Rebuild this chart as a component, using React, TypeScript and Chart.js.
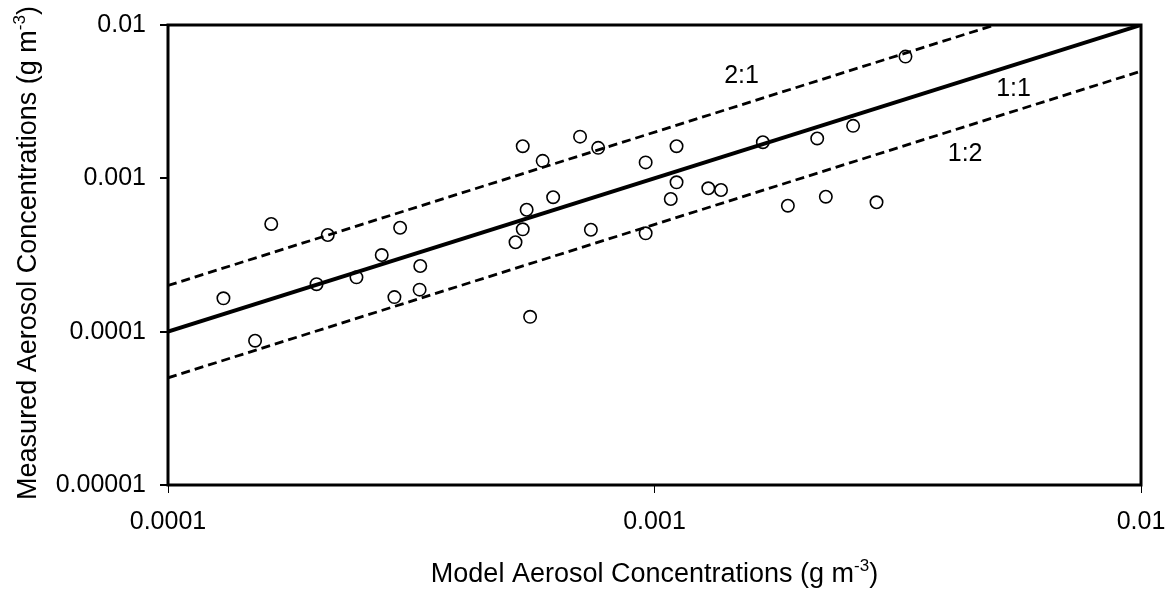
import React, { useEffect, useRef } from "react";
import { Chart, registerables } from "chart.js";

Chart.register(...registerables);

const FONT = '"Liberation Sans", Arial, sans-serif';

// Scatter data: model vs measured aerosol concentrations (g m^-3)
const modelX = [
  0.000130, 0.000151, 0.000163, 0.000202, 0.000213, 0.000244, 0.000275,
  0.000292, 0.000300, 0.000329, 0.000330, 0.000518, 0.000536, 0.000536,
  0.000546, 0.000555, 0.000589, 0.000619, 0.000703, 0.000740, 0.000766,
  0.000959, 0.000959, 0.00108, 0.00111, 0.00111, 0.00129, 0.00137,
  0.00167, 0.00188, 0.00216, 0.00225, 0.00256, 0.00286, 0.00328,
];
const measuredY = [
  0.000165, 0.0000873, 0.000504, 0.000204, 0.000427, 0.000226, 0.000316,
  0.000168, 0.000476, 0.000188, 0.000268, 0.000383, 0.000465, 0.00162,
  0.000624, 0.000125, 0.00130, 0.000753, 0.00187, 0.000462, 0.00158,
  0.00127, 0.000438, 0.000733, 0.00162, 0.000942, 0.000861, 0.000839,
  0.00172, 0.000663, 0.00182, 0.000759, 0.00220, 0.000698, 0.00622,
];

// Reference lines
const oneToOneX = [0.0001, 0.01];
const oneToOneY = [0.0001, 0.01];
const twoToOneX = [0.0001, 0.005];
const twoToOneY = [0.0002, 0.01];
const oneToTwoX = [0.0001, 0.01];
const oneToTwoY = [0.00005, 0.005];

// Line labels
const ratioLabels = ["2:1", "1:1", "1:2"];
const ratioLabelX = [0.00151, 0.00547, 0.00435];
const ratioLabelY = [0.00468, 0.00388, 0.00146];

// Axes
const xTickValues = [0.0001, 0.001, 0.01];
const xTickLabels = ["0.0001", "0.001", "0.01"];
const yTickValues = [0.00001, 0.0001, 0.001, 0.01];
const yTickLabels = ["0.00001", "0.0001", "0.001", "0.01"];
const xTitleParts = ["Model Aerosol Concentrations (g m", "-3", ")"];
const yTitleParts = ["Measured Aerosol Concentrations (g m", "-3", ")"];

const toPts = (xs: number[], ys: number[]) => xs.map((x, i) => ({ x, y: ys[i] }));

function drawSupTitle(ctx: CanvasRenderingContext2D, parts: string[], cx: number, cy: number, rotate: boolean) {
  ctx.save();
  ctx.translate(cx, cy);
  if (rotate) ctx.rotate(-Math.PI / 2);
  const mainFont = `27px ${FONT}`;
  const supFont = `17px ${FONT}`;
  ctx.font = mainFont;
  const w1 = ctx.measureText(parts[0]).width;
  const w3 = ctx.measureText(parts[2]).width;
  ctx.font = supFont;
  const w2 = ctx.measureText(parts[1]).width;
  let x = -(w1 + w2 + w3) / 2;
  ctx.fillStyle = "#000";
  ctx.textAlign = "left";
  ctx.textBaseline = "alphabetic";
  ctx.font = mainFont;
  ctx.fillText(parts[0], x, 0);
  x += w1;
  ctx.font = supFont;
  ctx.fillText(parts[1], x, -11);
  x += w2;
  ctx.font = mainFont;
  ctx.fillText(parts[2], x, 0);
  ctx.restore();
}

const decorPlugin = {
  id: "decor",
  afterDatasetsDraw(chart: any) {
    const { ctx, chartArea: a, scales } = chart;
    ctx.save();
    ctx.strokeStyle = "#000";
    ctx.lineWidth = 3;
    ctx.strokeRect(a.left, a.top, a.right - a.left, a.bottom - a.top);
    ctx.fillStyle = "#000";
    ctx.font = `25px ${FONT}`;
    ctx.textAlign = "center";
    ctx.textBaseline = "middle";
    ratioLabels.forEach((t, i) => {
      ctx.fillText(t, scales.x.getPixelForValue(ratioLabelX[i]), scales.y.getPixelForValue(ratioLabelY[i]) + 1);
    });
    ctx.restore();
  },
  afterDraw(chart: any) {
    const { ctx, chartArea: a } = chart;
    drawSupTitle(ctx, xTitleParts, (a.left + a.right) / 2, 582, false);
    drawSupTitle(ctx, yTitleParts, 36, (a.top + a.bottom) / 2 - 2, true);
  },
};

export default function App() {
  const ref = useRef<HTMLCanvasElement>(null);

  useEffect(() => {
    if (!ref.current) return;
    const chart = new Chart(ref.current, {
      type: "scatter",
      data: {
        datasets: [
          {
            label: "Observations",
            data: toPts(modelX, measuredY),
            pointStyle: "circle",
            pointRadius: 6.2,
            pointBorderWidth: 1.6,
            borderColor: "#000",
            backgroundColor: "rgba(0,0,0,0)",
            showLine: false,
          },
          {
            label: "1:1",
            data: toPts(oneToOneX, oneToOneY),
            showLine: true,
            borderColor: "#000",
            borderWidth: 4,
            pointRadius: 0,
          },
          {
            label: "2:1",
            data: toPts(twoToOneX, twoToOneY),
            showLine: true,
            borderColor: "#000",
            borderWidth: 2.8,
            borderDash: [9, 5],
            pointRadius: 0,
          },
          {
            label: "1:2",
            data: toPts(oneToTwoX, oneToTwoY),
            showLine: true,
            borderColor: "#000",
            borderWidth: 2.8,
            borderDash: [9, 5],
            pointRadius: 0,
          },
        ],
      },
      options: {
        responsive: false,
        devicePixelRatio: 1,
        animation: false,
        events: [],
        layout: { padding: { top: 25, right: 26, left: 0, bottom: 0 } },
        plugins: { legend: { display: false }, tooltip: { enabled: false } },
        scales: {
          x: {
            type: "logarithmic",
            position: "bottom",
            min: 0.0001,
            max: 0.01,
            afterBuildTicks: (s: any) => {
              s.ticks = xTickValues.map((v) => ({ value: v }));
            },
            afterFit: (s: any) => {
              s.height = 106;
              s.paddingLeft = 0;
              s.paddingRight = 0;
            },
            grid: { display: true, drawOnChartArea: false, drawTicks: true, tickLength: 8, color: "#000", lineWidth: 1 },
            border: { display: false },
            ticks: {
              autoSkip: false,
              maxRotation: 0,
              minRotation: 0,
              padding: 14,
              color: "#000",
              font: { family: FONT, size: 25 },
              callback: (_v: any, i: number) => xTickLabels[i],
            },
          },
          y: {
            type: "logarithmic",
            position: "left",
            min: 0.00001,
            max: 0.01,
            afterBuildTicks: (s: any) => {
              s.ticks = yTickValues.map((v) => ({ value: v }));
            },
            afterFit: (s: any) => {
              s.width = 168;
              s.paddingTop = 0;
              s.paddingBottom = 0;
            },
            grid: { display: true, drawOnChartArea: false, drawTicks: true, tickLength: 8, color: "#000", lineWidth: 2 },
            border: { display: false },
            ticks: {
              autoSkip: false,
              padding: 14,
              color: "#000",
              font: { family: FONT, size: 25 },
              callback: (_v: any, i: number) => yTickLabels[i],
            },
          },
        },
      },
      plugins: [decorPlugin],
    } as any);
    return () => chart.destroy();
  }, []);

  return (
    <div style={{ position: "fixed", left: 0, top: 0, width: 1167, height: 591, background: "#fff" }}>
      <canvas ref={ref} width={1167} height={591} style={{ display: "block" }} />
    </div>
  );
}
